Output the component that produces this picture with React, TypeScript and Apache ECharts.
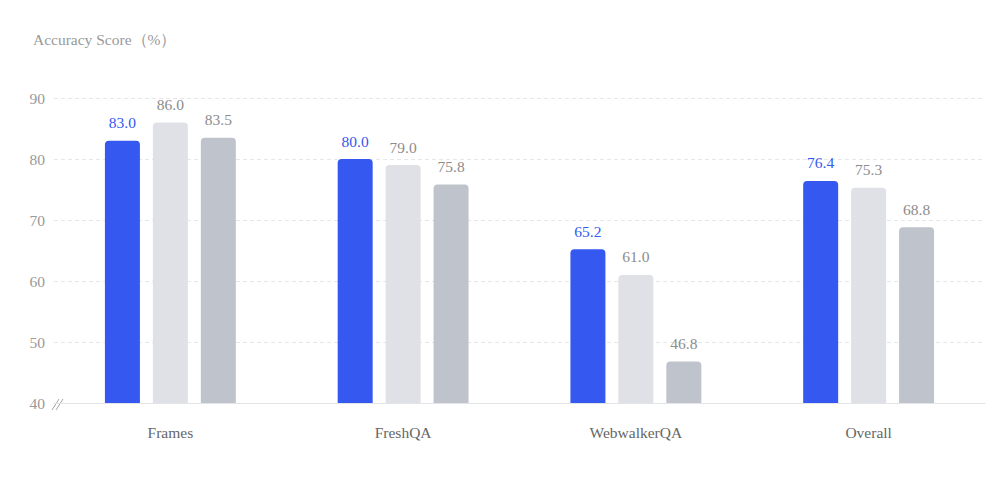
import React, { useEffect, useRef } from "react";
import * as echarts from "echarts";

const categories = ["Frames", "FreshQA", "WebwalkerQA", "Overall"];
const seriesA = [83.0, 80.0, 65.2, 76.4];
const seriesB = [86.0, 79.0, 61.0, 75.3];
const seriesC = [83.5, 75.8, 46.8, 68.8];
const yTicks = [40, 50, 60, 70, 80, 90];

const FONT = "'Liberation Serif', 'Times New Roman', serif";
const FS = 15.5;

export default function App() {
  const ref = useRef<HTMLDivElement>(null);

  useEffect(() => {
    if (!ref.current) return;
    const chart = echarts.init(ref.current, undefined, { renderer: "svg" });

    const mkSeries = (name: string, data: number[], color: string, labelColor: string) => ({
      name,
      type: "bar",
      data,
      barWidth: 35,
      barGap: "37%",
      itemStyle: { color, borderRadius: [4, 4, 0, 0] },
      label: {
        show: true,
        position: "top",
        distance: 10,
        formatter: (p: any) => Number(p.value).toFixed(1),
        color: labelColor,
        fontFamily: FONT,
        fontSize: FS,
      },
    });

    chart.setOption({
      animation: false,
      textStyle: { fontFamily: FONT },
      title: {
        text: "Accuracy Score（%）",
        left: 28,
        top: 26,
        textStyle: { fontFamily: FONT, fontSize: FS, fontWeight: "normal", color: "#999999" },
      },
      grid: { left: 54, right: 15, top: 98, bottom: 97 },
      xAxis: {
        type: "category",
        data: categories,
        axisLine: { show: true, lineStyle: { color: "#E3E4E8", width: 1 } },
        axisTick: { show: false },
        axisLabel: { color: "#666666", fontFamily: FONT, fontSize: FS, margin: 21 },
      },
      yAxis: {
        type: "value",
        min: yTicks[0],
        max: yTicks[yTicks.length - 1],
        interval: 10,
        axisLine: { show: false },
        axisTick: { show: false },
        axisLabel: { color: "#999999", fontFamily: FONT, fontSize: FS, margin: 9 },
        splitLine: { show: true, lineStyle: { color: "#E6E7EB", type: [4, 3] } },
      },
      series: [
        mkSeries("A", seriesA, "#3558F0", "#3558F0"),
        mkSeries("B", seriesB, "#E0E1E6", "#8C8C8C"),
        mkSeries("C", seriesC, "#BFC3CB", "#8C8C8C"),
      ],
    });

    // axis-break mark where the value axis meets the category axis
    const origin = chart.convertToPixel({ gridIndex: 0 }, [0, yTicks[0]]) as number[];
    const y0 = origin[1];
    const gridLeft = 54;
    chart.setOption({
      graphic: [
        {
          type: "line",
          shape: { x1: gridLeft - 2, y1: y0 + 7, x2: gridLeft + 5, y2: y0 - 4 },
          style: { stroke: "#A8A8A8", lineWidth: 1 },
        },
        {
          type: "line",
          shape: { x1: gridLeft + 2, y1: y0 + 7, x2: gridLeft + 9, y2: y0 - 4 },
          style: { stroke: "#A8A8A8", lineWidth: 1 },
        },
      ],
    });

    return () => chart.dispose();
  }, []);

  return (
    <div
      ref={ref}
      style={{ position: "fixed", left: 0, top: 0, width: 1000, height: 500, background: "#ffffff" }}
    />
  );
}
